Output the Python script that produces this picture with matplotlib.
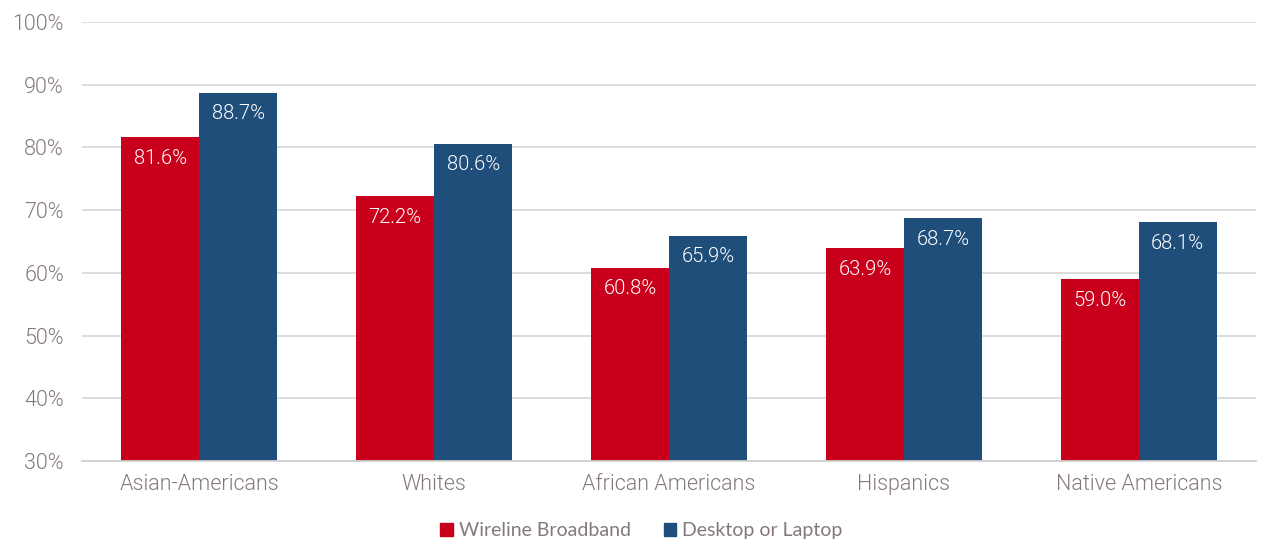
import matplotlib
matplotlib.use("Agg")
import matplotlib.pyplot as plt
import numpy as np
from matplotlib.patches import Patch

categories = ["Asian-Americans", "Whites", "African Americans", "Hispanics", "Native Americans"]
wireline = [81.6, 72.2, 60.8, 63.9, 59.0]
desktop = [88.7, 80.6, 65.9, 68.7, 68.1]
series_names = ["Wireline Broadband", "Desktop or Laptop"]
yticks = [30, 40, 50, 60, 70, 80, 90, 100]

red = "#C9001B"
blue = "#1F4E7A"
tick_color = "#857878"

plt.rcParams["font.family"] = ["Roboto", "DejaVu Sans"]
plt.rcParams["font.weight"] = 300

fig = plt.figure(figsize=(12.65, 5.43), dpi=100)
ax = fig.add_axes([0.0648, 0.151, 0.9282, 0.8085])

x = np.arange(len(categories))
w = 0.332
b1 = ax.bar(x - w/2, wireline, w, color=red, zorder=3)
b2 = ax.bar(x + w/2, desktop, w, color=blue, zorder=3)

for bars, vals in ((b1, wireline), (b2, desktop)):
    for rect, v in zip(bars, vals):
        ax.annotate(f"{v:.1f}%", (rect.get_x() + rect.get_width()/2, v),
                    xytext=(0, -21), textcoords="offset pixels",
                    ha="center", va="center", color="white", fontsize=14.5, zorder=4)

ax.set_ylim(30, 100)
ax.set_xlim(-0.5, len(categories) - 0.5)
ax.set_yticks(yticks)
ax.set_yticklabels([f"{t}%" for t in yticks])
ax.set_xticks(x)
ax.set_xticklabels(categories)
ax.tick_params(axis="both", length=0, colors=tick_color, labelsize=15.5)
ax.tick_params(axis="y", pad=13)
ax.tick_params(axis="x", pad=9)
ax.grid(axis="y", color="#d9d9d9", linewidth=1.3, zorder=0)
for s in ["top", "right", "left"]:
    ax.spines[s].set_visible(False)
ax.spines["bottom"].set_color("#d0d0d0")
ax.spines["bottom"].set_linewidth(1.3)
ax.spines["bottom"].set_zorder(5)

handles = [Patch(color=red), Patch(color=blue)]
fig.legend(handles, series_names, loc="center", bbox_to_anchor=(0.507, 0.023),
           ncol=2, frameon=False, handlelength=0.65, handleheight=0.65,
           handletextpad=0.3, columnspacing=1.7,
           prop={"family": "Lato", "size": 14, "weight": "normal"}, labelcolor=tick_color)

fig.savefig("out.png", dpi=100)
